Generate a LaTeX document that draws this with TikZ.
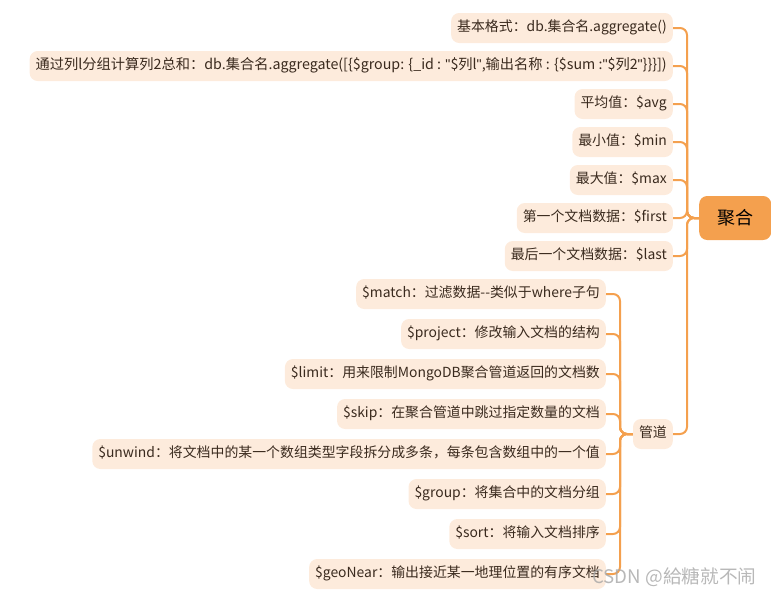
\documentclass[tikz,border=0pt]{standalone}
\usepackage{fontspec}
\setmainfont{Noto Sans CJK SC}
\newfontfamily\latq{Liberation Sans}
\newcommand{\qq}{{\latq"}}
\definecolor{lineor}{HTML}{F4A04E}
\definecolor{boxbg}{HTML}{FDEBDC}
\definecolor{txt}{HTML}{3A2A1E}
\tikzset{
  leaf/.style={fill=boxbg, rounded corners=8pt, text=txt, font=\fontsize{13.9}{15}\selectfont,
    minimum height=30pt, inner xsep=6pt, inner ysep=0pt, anchor=east, text height=10.5pt, text depth=3pt},
  wideleaf/.style={leaf, font=\fontsize{14.25}{15}\selectfont},
  rootbox/.style={fill=lineor, rounded corners=8pt, text=black, font=\fontsize{18}{20}\selectfont,
    minimum height=44pt, minimum width=72pt, anchor=west},
  conn/.style={draw=lineor, line width=2pt, rounded corners=7pt},
}
\begin{document}
\begin{tikzpicture}[x=1pt,y=-1pt]
\useasboundingbox (0,0) rectangle (771,595);
\node[rootbox] (root) at (699,218) {聚合};
\coordinate (rt) at (687,218);
\node[leaf] (a1) at (673,28) {基本格式：db.集合名.aggregate()};
\node[wideleaf] (a2) at (673,66) {通过列l分组计算列2总和：db.集合名.aggregate([\{\$group: \{\_id : \qq\$列l\qq,输出名称 : \{\$sum :\qq\$列2\qq\}\}\}])};
\node[leaf] (a3) at (673,104) {平均值：\$avg};
\node[leaf] (a4) at (673,142) {最小值：\$min};
\node[leaf] (a5) at (673,180) {最大值：\$max};
\node[leaf] (a6) at (673,218) {第一个文档数据：\$first};
\node[leaf] (a7) at (673,256) {最后一个文档数据：\$last};
\node[leaf] (pipe) at (673,434) {管道};
\coordinate (pt) at (620,434);
\node[leaf] (b1) at (606,294) {\$match：过滤数据{-}{-}类似于where子句};
\node[leaf] (b2) at (606,334) {\$project：修改输入文档的结构};
\node[leaf] (b3) at (606,374) {\$limit：用来限制MongoDB聚合管道返回的文档数};
\node[leaf] (b4) at (606,414) {\$skip：在聚合管道中跳过指定数量的文档};
\node[leaf] (b5) at (606,454) {\$unwind：将文档中的某一个数组类型字段拆分成多条，每条包含数组中的一个值};
\node[leaf] (b6) at (606,494) {\$group：将集合中的文档分组};
\node[leaf] (b7) at (606,534) {\$sort：将输入文档排序};
\node[leaf] (b8) at (606,574) {\$geoNear：输出接近某一地理位置的有序文档};
\foreach \n in {a1,a2,a3,a4,a5,a6,a7,pipe} {
  \draw[conn] (\n.east) -| (rt) -- (root.west);
}
\foreach \n in {b1,b2,b3,b4,b5,b6,b7,b8} {
  \draw[conn] (\n.east) -| (pt) -- (pipe.west);
}
\node[anchor=west, text=gray!70, opacity=0.8, font=\fontsize{18.7}{20}\selectfont, inner sep=0pt] (wm) at (592,577) {CSDN @給糖就不闹};
\end{tikzpicture}
\end{document}
